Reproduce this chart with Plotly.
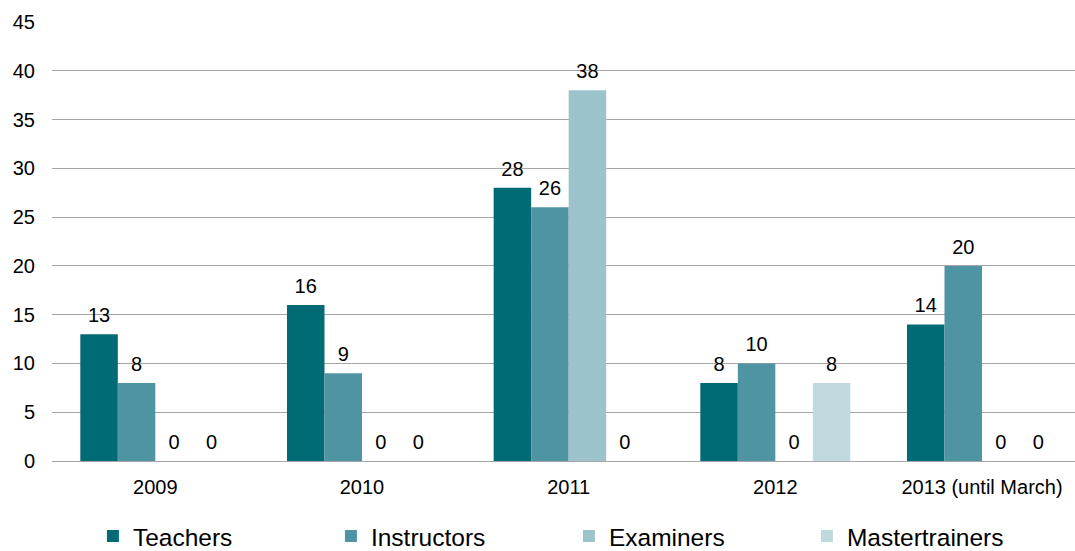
import plotly.graph_objects as go

categories = ["2009", "2010", "2011", "2012", "2013 (until March)"]
teachers = [13, 16, 28, 8, 14]
instructors = [8, 9, 26, 10, 20]
examiners = [0, 0, 38, 0, 0]
mastertrainers = [0, 0, 0, 8, 0]

series = [
    ("Teachers", teachers, "#006B74"),
    ("Instructors", instructors, "#4F94A3"),
    ("Examiners", examiners, "#9CC2CB"),
    ("Mastertrainers", mastertrainers, "#BFD9DE"),
]

FONT = "Liberation Sans, Arial, sans-serif"
GAP = 0.274

fig = go.Figure()
for name, vals, color in series:
    fig.add_trace(go.Bar(
        name=name, x=categories, y=vals,
        marker=dict(color=color, line=dict(width=0)),
        cliponaxis=False, hoverinfo="skip",
    ))
for name, vals, color in series:
    fig.add_trace(go.Scatter(
        name=name, x=categories, y=vals, mode="markers+text",
        text=[str(v) for v in vals], textposition="top center",
        marker=dict(size=10, color="rgba(0,0,0,0)", line=dict(width=0)),
        textfont=dict(family=FONT, size=20, color="#000000"),
        showlegend=False, cliponaxis=False, hoverinfo="skip",
    ))

fig.update_layout(
    width=1075, height=551,
    margin=dict(l=52, r=0, t=22, b=90, autoexpand=False),
    paper_bgcolor="white", plot_bgcolor="white",
    barmode="group", bargap=GAP, bargroupgap=0,
    scattermode="group", scattergap=GAP,
    font=dict(family=FONT, size=20, color="#000000"),
    showlegend=True,
    legend=dict(
        orientation="h", x=0.040, xanchor="left", y=-0.171, yanchor="middle",
        font=dict(family=FONT, size=24.5, color="#000000"),
        entrywidth=193, entrywidthmode="pixels",
        itemclick=False,
    ),
    xaxis=dict(
        type="category", range=[-0.5, 4.45], automargin=False,
        showgrid=False, showline=False, ticks="",
        tickfont=dict(family=FONT, size=20, color="#000000"),
        ticklabelstandoff=12,
    ),
    yaxis=dict(
        range=[0, 45], dtick=5, tick0=0, automargin=False,
        showgrid=True, gridcolor="#A6A6A6", gridwidth=1,
        zeroline=True, zerolinecolor="#A6A6A6", zerolinewidth=1,
        showline=False, ticks="",
        tickfont=dict(family=FONT, size=20, color="#000000"),
        ticklabelstandoff=16,
    ),
)

fig.write_html(
    "out.html",
    config={"displayModeBar": False},
    post_script="document.body.style.margin='0';document.body.style.overflow='hidden';",
)
